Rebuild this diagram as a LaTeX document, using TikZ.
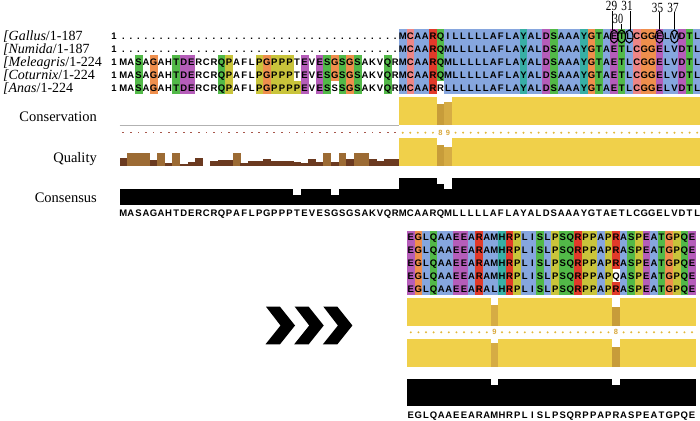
\documentclass[tikz,border=0pt]{standalone}
\usepackage{fontspec}
\setmainfont{Liberation Serif}
\newfontfamily\seqf{Liberation Sans}
\usepackage{graphicx}
\usetikzlibrary{shapes.geometric}
\definecolor{colb}{HTML}{86A6DE}
\definecolor{colg}{HTML}{52B948}
\definecolor{colm}{HTML}{B55DB9}
\definecolor{colo}{HTML}{EF8F4D}
\definecolor{coly}{HTML}{C9C43B}
\definecolor{colr}{HTML}{E23A2A}
\definecolor{colp}{HTML}{EE8686}
\definecolor{colt}{HTML}{38AFA5}
\definecolor{bary}{HTML}{F0D04A}
\definecolor{goldA}{HTML}{D6AC44}
\definecolor{goldB}{HTML}{C79C3A}
\definecolor{qdark}{HTML}{6B3A20}
\definecolor{qlight}{HTML}{9C6B34}
\definecolor{dotred}{HTML}{A8574C}
\definecolor{stargold}{HTML}{E2B83A}
\definecolor{scoregold}{HTML}{D9A83C}

\newcount\cidx
\def\rowh{12.9}
\newcommand\seqrow[5]{\def\myxs{#1}\def\mycw{#2}\def\myyc{#3}\global\cidx=0 \rowi#4\relax#5\relax}
\def\rowi#1#2\relax#3#4\relax{\cellx{#1}{#3}\global\advance\cidx by 1 \ifx\relax#2\relax\else\rowi#2\relax#4\relax\fi}
\newcommand\cellx[2]{\if#2.\else\fill[col#2] ({\myxs+\mycw*\the\cidx},{\myyc-\rowh/2}) rectangle ++({\mycw+0.3},\rowh);\fi
  \node[seqtxt] at ({\myxs+\mycw*(\the\cidx+0.5)},{\myyc+3.9}) {#1};}
\newcommand\txtrow[4]{\def\myxs{#1}\def\mycw{#2}\def\myyc{#3}\global\cidx=0 \trowi#4\relax}
\def\trowi#1#2\relax{\node[seqtxt] at ({\myxs+\mycw*(\the\cidx+0.5)},\myyc) {#1};\global\advance\cidx by 1 \ifx\relax#2\relax\else\trowi#2\relax\fi}

\begin{document}
\begin{tikzpicture}[x=1pt,y=-1pt,
  seqtxt/.style={font=\seqf\bfseries\fontsize{9.5}{9.5}\selectfont, inner sep=0pt, anchor=base},
  lab/.style={font=\fontsize{14.5}{14.5}\selectfont, inner sep=0pt, anchor=base east},
  seqname/.style={font=\fontsize{14}{14}\selectfont, inner sep=0pt, anchor=base west},
  anum/.style={font=\fontsize{14}{14}\selectfont, inner sep=0pt},
  circ/.style={draw, line width=1.1pt, ellipse, minimum width=7.6pt, minimum height=13pt, inner sep=0pt},
  aline/.style={line width=1.1pt},
  scorenum/.style={font=\seqf\bfseries\fontsize{7.5}{7.5}\selectfont, text=scoregold, inner sep=0pt},
]
\fill[white] (0,0) rectangle (700,420);
\useasboundingbox (0,0) rectangle (700,420);

% ---------- names ----------
\node[seqname] (n1) at (3,40.9) {\textit{[Gallus}/1-187};
\node[seqname] (n2) at (3,53.8) {\textit{[Numida}/1-187};
\node[seqname] (n3) at (3,66.7) {\textit{[Meleagris}/1-224};
\node[seqname] (n4) at (3,79.6) {\textit{[Coturnix}/1-224};
\node[seqname] (n5) at (3,92.5) {\textit{[Anas}/1-224};
\foreach \y in {35.95,48.85,61.75,74.65,87.55} \node[seqtxt] at (114,\y+3.9) {1};

% ---------- top alignment ----------
\foreach \y in {35.95,48.85} \foreach \c in {0,...,36} \node[seqtxt] at ({119.6+7.55*(\c+0.5)},\y+3.9) {.};
\seqrow{398.95}{7.55}{35.95}{MCAARQILLLLLAFLAYALDSAAAYGTAETLCGGELVDTL}{bpbbrgbbbbbbbbbbtbbmgbbbtogbmgbpoombbmgb}
\seqrow{398.95}{7.55}{48.85}{MCAARQMLLLLLAFLAYALDSAAAYGTAETLCGGELVDTL}{bpbbrgbbbbbbbbbbtbbmgbbbtogbmgbpoombbmgb}
\seqrow{119.6}{7.55}{61.75}{MASAGAHTDERCRQPAFLPGPPPTEVESGSGSAKVQR}{..g.o..gmm...gy...yoyyy.m.mgogog...g.}
\seqrow{398.95}{7.55}{61.75}{MCAARQMLLLLLAFLAYALDSAAAYGTAETLCGGELVDTL}{bpbbrgbbbbbbbbbbtbbmgbbbtogbmgbpoombbmgb}
\seqrow{119.6}{7.55}{74.65}{MASAGAHTDERCRQPAFLPGPPPTEVESGSGSAKVQR}{..g.o..gmm...gy...yoyyy.m.mgogog...g.}
\seqrow{398.95}{7.55}{74.65}{MCAARQMLLLLLAFLAYALDSAAAYGTAETLCGGELVDTL}{bpbbrgbbbbbbbbbbtbbmgbbbtogbmgbpoombbmgb}
\seqrow{119.6}{7.55}{87.55}{MASAGAHTDERCRQPAFLPGPPPPEVESSSGSAKVQR}{..g.o..gmm...gy...yoyyyym.mg.gog...g.}
\seqrow{398.95}{7.55}{87.55}{MCAARRLLLLLLAFLAYALDSAAAYGTAETLCGGELVDTL}{bpbbr.bbbbbbbbbbtbbmgbbbtogbmgbpoombbmgb}

% ---------- position marks ----------
\node[circ] (e29) at (614.1,36.5) {};
\node[circ] (e30) at (621.65,36.5) {};
\node[circ] (e31) at (629.2,36.5) {};
\node[circ] (e35) at (659.4,36.5) {};
\node[circ] (e37) at (674.5,36.5) {};
\node[anum] (l29) at (611.5,6) {\scalebox{0.8}[1]{29}};
\node[anum] (l31) at (627,6) {\scalebox{0.8}[1]{31}};
\node[anum] (l30) at (618,19) {\scalebox{0.72}[1]{30}};
\node[anum] (l35) at (657.5,7.5) {\scalebox{0.8}[1]{35}};
\node[anum] (l37) at (673,7.5) {\scalebox{0.8}[1]{37}};
\draw[aline] (e29.105) -- (e29.105 |- l29.south);
\draw[aline] (e31.75) -- (e31.75 |- l31.south);
\draw[aline] (e30.north) -- (e30.north |- l30.south);
\draw[aline] (e35.north) -- (e35.north |- l35.south);
\draw[aline] (e37.north) -- (e37.north |- l37.south);

% ---------- top annotations ----------
\node[lab] (lc) at (97,121.5) {Conservation};
\node[lab] (lq) at (97,162) {Quality};
\node[lab] (ls) at (97,202.5) {Consensus};

\draw[gray!60, line width=0.7pt] (119.6,125) -- (398.95,125);
\fill[bary] (398.95,96.7) rectangle (700,125);
\fill[white] (436.7,96.7) rectangle (451.8,105);
\fill[goldB] (436.7,104.4) rectangle (444.25,125);
\fill[goldA] (444.25,101.8) rectangle (451.8,125);

\foreach \c in {0,...,36} \fill[dotred] ({119.6+7.55*(\c+0.5)-0.9},132.1) rectangle ++(1.8,1.2);
\foreach \c in {37,...,76} {\ifnum\c=42 \else\ifnum\c=43 \else \fill[stargold] ({119.6+7.55*(\c+0.5)},132.7) circle (1.1);\fi\fi}
\node[scorenum] (s8) at ({119.6+7.55*42.5},132.7) {8};
\node[scorenum] (s9) at ({119.6+7.55*43.5},132.7) {9};

\foreach \c/\t/\k in {0/157.7/qdark,1/153.3/qlight,2/153.3/qlight,3/153.3/qlight,4/160/qdark,5/153.3/qlight,6/163.3/qdark,7/153.3/qlight,8/164.3/qdark,9/161.7/qdark,10/158.3/qdark,12/161/qdark,13/160/qdark,14/160/qdark,15/153.3/qlight,16/163.3/qdark,17/161/qdark,18/161/qdark,19/159.3/qdark,20/161/qdark,21/161/qdark,22/161/qdark,23/162.3/qdark,24/163.3/qdark,25/159.3/qdark,26/161.7/qdark,27/153.3/qlight,28/161.7/qdark,29/153.3/qlight,30/159.3/qdark,31/153.3/qlight,32/153.3/qlight,33/159.3/qdark,34/161/qdark,35/159.3/qdark,36/159.3/qdark}
  \fill[\k] ({119.6+7.55*\c},\t) rectangle ({119.6+7.55*(\c+1)+0.3},165.5);
\fill[bary] (398.95,138.3) rectangle (700,165.5);
\fill[white] (436.7,138.3) rectangle (451.8,147);
\fill[goldB] (436.7,145) rectangle (444.25,165.5);
\fill[goldA] (444.25,146.7) rectangle (451.8,165.5);

\fill[black] (119.6,189.3) rectangle (398.95,205);
\fill[black] (398.95,178.3) rectangle (700,205);
\fill[white] (293.25,189) rectangle (300.8,195);
\fill[white] (331,189) rectangle (338.55,195);
\fill[white] (436.7,178) rectangle (444.25,183.6);
\fill[white] (444.25,178) rectangle (451.8,189.3);
\txtrow{119.6}{7.55}{216.8}{MASAGAHTDERCRQPAFLPGPPPTEVESGSGSAKVQRMCAARQMLLLLLAFLAYALDSAAAYGTAETLCGGELVDTL}

% ---------- chevrons ----------
\foreach \dx in {0,28.7,57.4}
  \fill[black] (266+\dx,306.7) -- (280+\dx,306.7) -- (295+\dx,325.5) -- (280+\dx,344.3) -- (265.5+\dx,344.3) -- (280.5+\dx,325.5) -- cycle;

% ---------- bottom alignment ----------
\seqrow{407}{7.6}{236.95}{EGLQAAEEARAMHRPLISLPSQRPPAPRASPEATGPQE}{mobgbbmmbrbbtrybbgbyggryybyrbgymbgoygm}
\seqrow{407}{7.6}{249.85}{EGLQAAEEARAMHRPLISLPSQRPPAPRASPEATGPQE}{mobgbbmmbrbbtrybbgbyggryybyrbgymbgoygm}
\seqrow{407}{7.6}{262.75}{EGLQAAEEARAMHRPLISLPSQRPPAPRASPEATGPQE}{mobgbbmmbrbbtrybbgbyggryybyrbgymbgoygm}
\seqrow{407}{7.6}{275.65}{EGLQAAEEARAMHRPLISLPSQRPPAPQASPEATGPQE}{mobgbbmmbrbbtrybbgbyggryyby.bgymbgoygm}
\seqrow{407}{7.6}{288.55}{EGLQAAEEARALHRPLISLPSQRPPAPRASPEATGPQE}{mobgbbmmbrbbtrybbgbyggryybyrbgymbgoygm}

% ---------- bottom annotations ----------
\fill[bary] (407,297.7) rectangle (695.8,326);
\fill[white] (490.6,297.7) rectangle (498.2,304.5);
\fill[goldA] (490.6,304.5) rectangle (498.2,326);
\fill[white] (612.2,297.7) rectangle (619.8,306.7);
\fill[goldB] (612.2,306.7) rectangle (619.8,326);

\foreach \c in {0,...,37} {\ifnum\c=11 \else\ifnum\c=27 \else \fill[stargold] ({407+7.6*(\c+0.5)},332.3) circle (1.1);\fi\fi}
\node[scorenum] (b9) at ({407+7.6*11.5},332.3) {9};
\node[scorenum] (b8) at ({407+7.6*27.5},332.3) {8};

\fill[bary] (407,339.3) rectangle (695.8,366.5);
\fill[white] (490.6,339.3) rectangle (498.2,343.3);
\fill[goldA] (490.6,343.3) rectangle (498.2,366.5);
\fill[white] (612.2,339.3) rectangle (619.8,346.7);
\fill[goldB] (612.2,346.7) rectangle (619.8,366.5);

\fill[black] (407,379.3) rectangle (695.8,406);
\fill[white] (490.6,379) rectangle (498.2,384.6);
\fill[white] (612.2,379) rectangle (619.8,384.6);
\txtrow{407}{7.6}{418}{EGLQAAEEARAMHRPLISLPSQRPPAPRASPEATGPQE}
\end{tikzpicture}
\end{document}
